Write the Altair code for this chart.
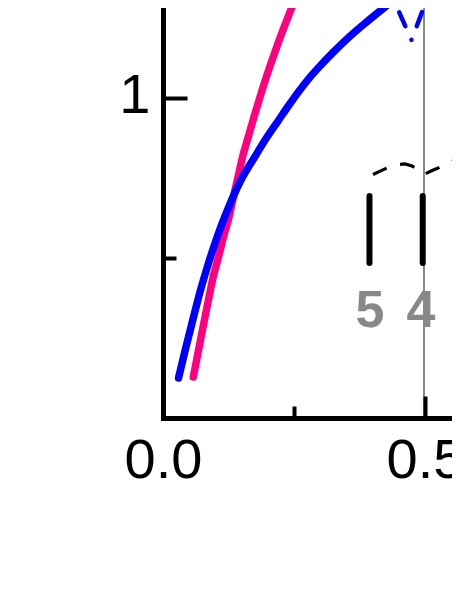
import altair as alt
import pandas as pd

# ---- data ----
pink_x = [0.0578, 0.0653, 0.0727, 0.0802, 0.0878, 0.0958, 0.1059, 0.1155, 0.1260, 0.1345, 0.1431,
          0.1519, 0.1626, 0.1737, 0.1851, 0.1973, 0.2103, 0.2240, 0.2385, 0.2542, 0.2615]
pink_y = [0.128, 0.191, 0.253, 0.316, 0.378, 0.441, 0.503, 0.566, 0.628, 0.691, 0.753,
          0.816, 0.878, 0.941, 1.003, 1.066, 1.128, 1.191, 1.253, 1.316, 1.344]

blue_x = [0.0296, 0.0439, 0.0578, 0.0706, 0.0840, 0.1040, 0.1246, 0.1469, 0.1756, 0.1985, 0.2195,
          0.2385, 0.2576, 0.2767, 0.2996, 0.3244, 0.3511, 0.3817, 0.4141, 0.4427, 0.4618]
blue_y = [0.125, 0.2219, 0.3125, 0.3938, 0.4688, 0.5688, 0.6563, 0.7375, 0.8172, 0.8781, 0.9281,
          0.9734, 1.0172, 1.0578, 1.100, 1.1422, 1.1844, 1.2281, 1.2719, 1.3094, 1.3344]

vdash_x = [0.4403, 0.4742, 0.5029]
vdash_y = [1.306, 1.181, 1.306]

kdash_x = [0.4008, 0.4256, 0.4466, 0.4618, 0.4752, 0.4866, 0.4981, 0.5115, 0.5248, 0.5382,
           0.5515, 0.5668, 0.5859]
kdash_y = [0.761, 0.780, 0.792, 0.794, 0.7875, 0.777, 0.761, 0.772, 0.781, 0.792,
           0.802, 0.809, 0.816]

bar_x = [0.394, 0.4956]
bar_y0 = [0.484, 0.484]
bar_y1 = [0.694, 0.694]

lab_x = [0.395, 0.492]
lab_y = [0.284, 0.284]
lab_text = ["5", "4"]

ref_x = [0.498]

x_tick_values = [0.0, 0.25, 0.5]
x_label_values = [0.0, 0.5]
y_tick_values = [0.5, 1.0]
y_label_values = [1.0]

X_DOMAIN = [0.0, 0.582]
Y_DOMAIN = [0.0, 1.30625]
W, H = 305, 418

xs = alt.Scale(domain=X_DOMAIN, nice=False, zero=False)
ys = alt.Scale(domain=Y_DOMAIN, nice=False, zero=False)

pink_df = pd.DataFrame({"x": pink_x, "y": pink_y})
blue_df = pd.DataFrame({"x": blue_x, "y": blue_y})
vdash_df = pd.DataFrame({"x": vdash_x, "y": vdash_y})
kdash_df = pd.DataFrame({"x": kdash_x, "y": kdash_y})
bar_df = pd.DataFrame({"x": bar_x, "y0": bar_y0, "y1": bar_y1})
lab_df = pd.DataFrame({"x": lab_x, "y": lab_y, "t": lab_text})
ref_df = pd.DataFrame({"x": ref_x})

FONT = "Liberation Sans"

# axis with inward ticks (domain + ticks only)
x_tick_axis = alt.Axis(orient="top", offset=-H, values=x_tick_values, labels=False, title=None,
                       grid=False, domainColor="black", domainWidth=5, domainCap="square",
                       tickColor="black", tickWidth=4,
                       tickSize={"condition": {"test": "datum.value == 0.25", "value": 12}, "value": 22},
                       zindex=1)
y_tick_axis = alt.Axis(orient="right", offset=-W, values=y_tick_values, labels=False, title=None,
                       grid=False, domainColor="black", domainWidth=5, domainCap="square",
                       tickColor="black", tickWidth=4,
                       tickSize={"condition": {"test": "datum.value == 0.5", "value": 13}, "value": 24},
                       zindex=1)
# axis with labels only
x_lab_axis = alt.Axis(orient="bottom", values=x_label_values, format=".1f", title=None, grid=False,
                      domain=False, ticks=False, labelFont=FONT, labelFontSize=56, labelColor="black",
                      labelBaseline="alphabetic", labelPadding=59, labelFlush=False, labelOverlap=False)
y_lab_axis = alt.Axis(orient="left", values=y_label_values, format="~g", title=None, grid=False,
                      domain=False, ticks=False, labelFont=FONT, labelFontSize=56, labelColor="black",
                      labelBaseline="alphabetic", labelAlign="right", labelPadding=13, labelOffset=14,
                      labelOverlap=False)

ref = alt.Chart(ref_df).mark_rule(color="#888888", strokeWidth=2).encode(
    x=alt.X("x:Q", scale=xs, axis=None))

bars = alt.Chart(bar_df).mark_rule(color="black", strokeWidth=6, strokeCap="round").encode(
    x=alt.X("x:Q", scale=xs, axis=None),
    y=alt.Y("y0:Q", scale=ys, axis=None),
    y2="y1:Q")

labels = alt.Chart(lab_df).mark_text(font=FONT, fontSize=52, fontWeight="bold", color="#888888",
                                     baseline="alphabetic", align="center").encode(
    x=alt.X("x:Q", scale=xs, axis=None),
    y=alt.Y("y:Q", scale=ys, axis=None),
    text="t:N")

kdash = alt.Chart(kdash_df).mark_line(color="black", strokeWidth=3.2, strokeDash=[15, 14], clip=True).encode(
    x=alt.X("x:Q", scale=xs, axis=None),
    y=alt.Y("y:Q", scale=ys, axis=None))

pink = alt.Chart(pink_df).mark_line(color="#FF0080", strokeWidth=7.5, strokeCap="round",
                                    interpolate="monotone", clip=True).encode(
    x=alt.X("x:Q", scale=xs, axis=x_tick_axis),
    y=alt.Y("y:Q", scale=ys, axis=y_tick_axis))

blue = alt.Chart(blue_df).mark_line(color="#0000FF", strokeWidth=7.5, strokeCap="round",
                                    interpolate="monotone", clip=True).encode(
    x=alt.X("x:Q", scale=xs, axis=x_lab_axis),
    y=alt.Y("y:Q", scale=ys, axis=y_lab_axis))

vdash = alt.Chart(vdash_df).mark_line(color="#0000FF", strokeWidth=4.5, strokeCap="round",
                                      strokeDash=[15, 15, 0.1, 15], strokeDashOffset=31.6,
                                      clip=True).encode(
    x=alt.X("x:Q", scale=xs, axis=None),
    y=alt.Y("y:Q", scale=ys, axis=None))

chart = alt.layer(ref, bars, labels, kdash, pink, blue, vdash).resolve_axis(
    x="independent", y="independent"
).properties(
    width=W, height=H,
    padding={"left": 155, "top": -8, "right": -16, "bottom": 100},
    autosize=alt.AutoSizeParams(type="none"),
    background="white",
).configure_view(stroke=None)

chart.save("out.html", embed_options={"renderer": "svg", "actions": False})
